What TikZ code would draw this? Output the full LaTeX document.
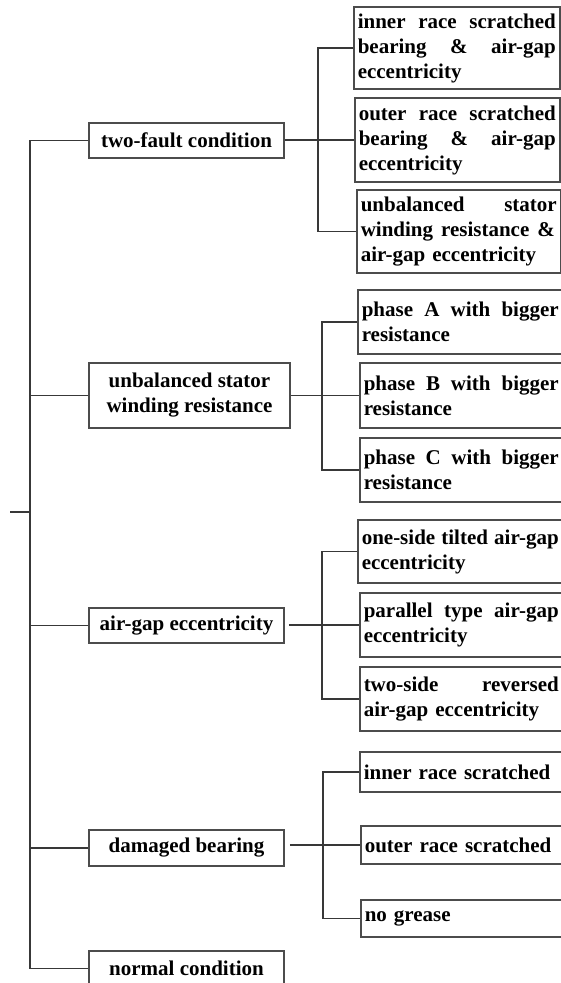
\documentclass[tikz,border=0pt]{standalone}
\usepackage{fontspec}
\setmainfont{Liberation Serif}
\newcommand{\js}[2]{\leavevmode\hbox to #1{\spaceskip=0.25em plus 1fil\relax #2}}
\begin{document}
\begin{tikzpicture}[x=1pt,y=-1pt,
  line/.style={draw=black!78, line width=1.4pt},
  boxbase/.style={draw=black!70, line width=1.5pt, inner xsep=4pt, inner ysep=0pt,
    font=\fontsize{21}{25}\selectfont\bfseries},
  mainbox/.style={boxbase, align=center, minimum width=195pt, minimum height=35pt},
  subbox/.style={boxbase, anchor=west, align=left}
]
\clip (0,0) rectangle (561,983);
% first column
\node[mainbox] (tf) at (186.5,140.5) {two-fault condition};
\node[mainbox, minimum width=201pt, minimum height=65pt] (us) at (189.5,395.5) {unbalanced stator\\winding resistance};
\node[mainbox] (ag) at (186.5,625.5) {air-gap eccentricity};
\node[mainbox, minimum height=36pt] (db) at (186.5,848) {damaged bearing};
\node[mainbox] (nc) at (186.5,968.5) {normal condition};
% group 1
\node[subbox, minimum width=206pt, minimum height=82pt, text width=198pt] (a1) at (353,48)
  {\js{198pt}{inner race scratched}\\\js{198pt}{bearing \& air-gap}\\eccentricity};
\node[subbox, minimum width=205pt, minimum height=84pt, text width=197pt] (a2) at (354,140)
  {\js{197pt}{outer race scratched}\\\js{197pt}{bearing \& air-gap}\\eccentricity};
\node[subbox, minimum width=204pt, minimum height=83pt, text width=196pt] (a3) at (356,231.5)
  {\js{196pt}{unbalanced stator}\\\js{194pt}{winding resistance \&}\\air-gap eccentricity};
% group 2
\node[subbox, minimum height=64pt, text width=230pt] (b1) at (357,322)
  {\js{197pt}{phase A with bigger}\\resistance};
\node[subbox, minimum height=65pt, text width=230pt] (b2) at (359,395.5)
  {\js{195pt}{phase B with bigger}\\resistance};
\node[subbox, minimum height=64pt, text width=230pt] (b3) at (359,470)
  {\js{195pt}{phase C with bigger}\\resistance};
% group 3
\node[subbox, minimum height=63pt, text width=230pt] (c1) at (357,551.5)
  {\js{197pt}{one-side tilted air-gap}\\eccentricity};
\node[subbox, minimum height=64pt, text width=230pt] (c2) at (359,625)
  {\js{195pt}{parallel type air-gap}\\eccentricity};
\node[subbox, minimum height=64pt, text width=230pt] (c3) at (359,699)
  {\js{195pt}{two-side reversed}\\air-gap eccentricity};
% group 4
\node[subbox, minimum height=40pt, text width=230pt] (d1) at (359,772) {inner race scratched};
\node[subbox, minimum height=38pt, text width=230pt] (d2) at (360,845) {outer race scratched};
\node[subbox, minimum height=37pt, text width=230pt] (d3) at (360,918.5) {no grease};
% trunk
\coordinate (t) at (30,968.5);
\coordinate (root) at (10,512);
\draw[line] (tf.west) -| (t) -- (nc.west);
\draw[line] (us.west) -- (us.west -| t);
\draw[line] (ag.west) -- (ag.west -| t);
\draw[line] (db.west) -- (db.west -| t);
\draw[line] (root) -- (root -| t);
% group connectors
\coordinate (v1) at (318,0);
\coordinate (v2) at (322,0);
\coordinate (v3) at (322,0);
\coordinate (v4) at (323,0);
\draw[line] (a1.west) -| (v1 |- a3.west) -- (a3.west);
\draw[line] (tf.east |- a2.west) -- (a2.west);
\draw[line] (b1.west) -| (v2 |- b3.west) -- (b3.west);
\draw[line] (us.east |- b2.west) -- (b2.west);
\draw[line] (c1.west) -| (v3 |- c3.west) -- (c3.west);
\draw[line, shorten <=4pt] (ag.east |- c2.west) -- (c2.west);
\draw[line] (d1.west) -| (v4 |- d3.west) -- (d3.west);
\draw[line, shorten <=5pt] (db.east |- d2.west) -- (d2.west);
\end{tikzpicture}
\end{document}
